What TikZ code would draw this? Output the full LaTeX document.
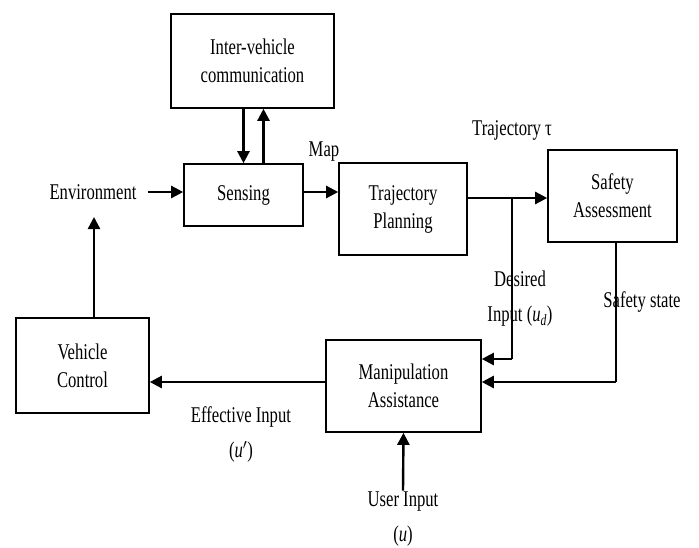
\documentclass[tikz,border=0pt]{standalone}
\usepackage{fontspec}
\setmainfont{Liberation Serif}[FakeStretch=0.74]
\usepackage{tikz}
\usetikzlibrary{arrows.meta}
\usetikzlibrary{calc}

\begin{document}
\begin{tikzpicture}[x=1pt, y=1pt,
    block/.style={draw, line width=1.6pt, align=center, inner sep=0pt,
      font=\fontsize{22.5}{28}\selectfont},
    lbl/.style={align=center, inner sep=1pt, font=\fontsize{22.5}{35}\selectfont},
    arr/.style={line width=2.4pt, -{Triangle[length=12pt, width=12pt]}},
    thinline/.style={line width=1.1pt}]
      \useasboundingbox (0,0) rectangle (699,-547);

      % Define the coordinates of the blocks
      \coordinate (C) at (252.5,-61);
      \coordinate (S) at (243.5,-195);
      \coordinate (P) at (403,-209);
      \coordinate (A) at (612.5,-196);
      \coordinate (M) at (403.5,-386);
      \coordinate (V) at (82.5,-365.5);

      % Draw the blocks
      \node[block, minimum width=163, minimum height=94] (comm) at (C) {Inter-vehicle\\communication};
      \node[block, minimum width=119, minimum height=62] (sense) at (S) {Sensing};
      \node[block, minimum width=128, minimum height=92] (plan) at (P) {Trajectory\\Planning};
      \node[block, minimum width=129, minimum height=92] (safe) at (A) {Safety\\Assessment};
      \node[block, minimum width=155, minimum height=92] (manip) at (M) {Manipulation\\Assistance};
      \node[block, minimum width=133, minimum height=95] (vctrl) at (V) {Vehicle\\Control};

      % Inputs and signal labels
      \node[lbl] (env) at (93,-192) {Environment};
      \node[lbl] (user) at (403,-519) {User Input\\(\textit{u})};
      \node[lbl] (map) at (324,-152) {Map};
      \node[lbl] (traj) at (512,-130) {Trajectory τ};
      \node[lbl] (des) at (520,-299) {Desired\\Input (\textit{u}\textsubscript{\textit{d}})};
      \node[lbl] (sstate) at (642,-302) {Safety state};
      \node[lbl] (eff) at (241,-434) {Effective Input\\(\textit{u}$'$)};

      % Branch points
      \coordinate (tap) at (512,-198);
      \coordinate (dturn) at (512,-359);
      \coordinate (sturn) at (616,-382);

      % Draw the connections
      \draw[arr] (sense.north |- comm.south) -- (sense.north);
      \draw[arr] ([xshift=20pt]sense.north) -- ([xshift=20pt]sense.north |- comm.south);
      \draw[arr] ([xshift=10pt]env.east) -- (sense.west |- env.east);
      \draw[arr] (sense.east |- env.east) -- (plan.west |- env.east);
      \draw[arr] (plan.east |- tap) -- (safe.west |- tap);
      \draw[thinline] (tap) -- (dturn);
      \draw[arr] (dturn) -- (manip.east |- dturn);
      \draw[thinline] (safe.south -| sturn) -- (sturn);
      \draw[arr] (sturn) -- (manip.east |- sturn);
      \draw[arr] (manip.west |- sturn) -- (vctrl.east |- sturn);
      \draw[arr] (vctrl.north -| 94,0) -- (94,-217);
      \draw[arr] (user.north) -- (manip.south);
    \end{tikzpicture}
\end{document}
